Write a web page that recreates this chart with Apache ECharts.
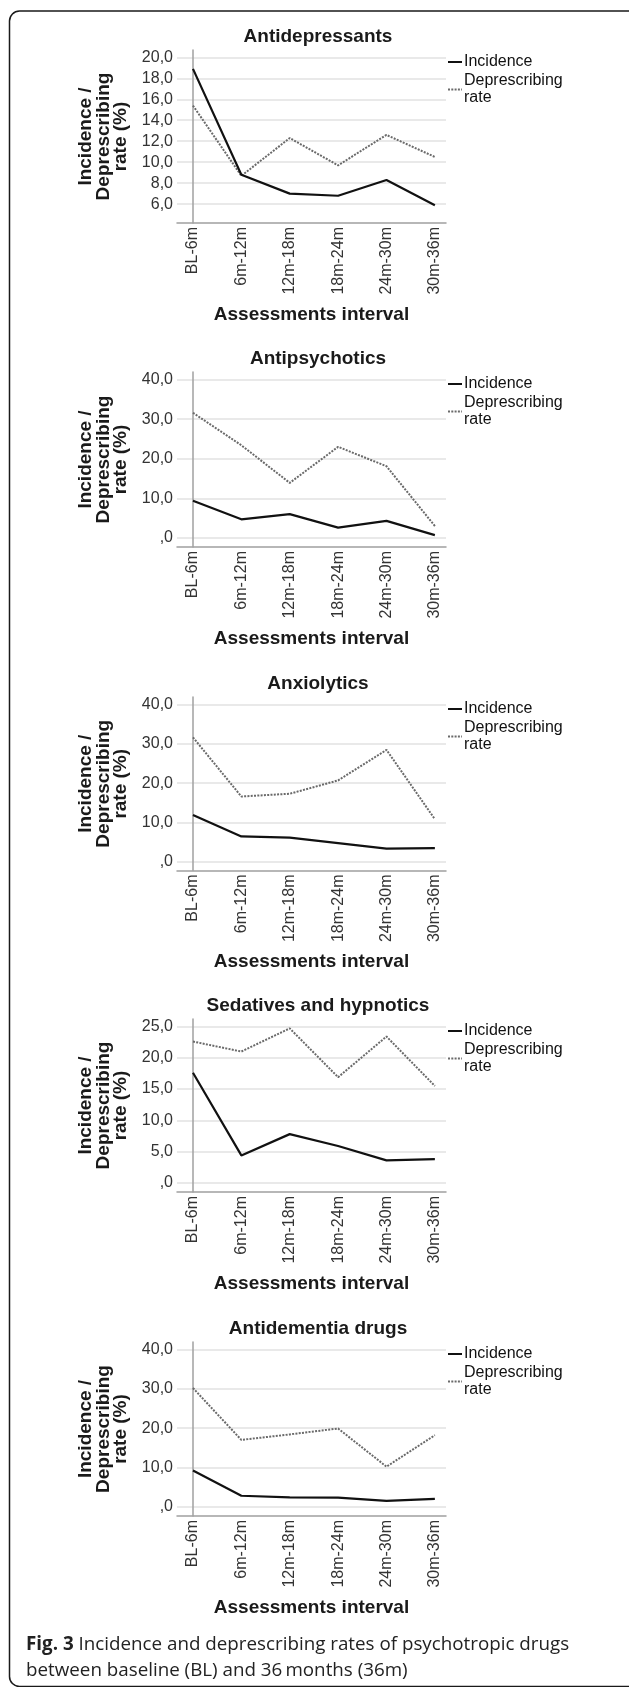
<!DOCTYPE html>
<html>
<head>
<meta charset="utf-8">
<title>Incidence and deprescribing rates of psychotropic drugs</title>
<script src="https://cdn.jsdelivr.net/npm/echarts@6/dist/echarts.min.js"></script>
<style>
  html, body { margin: 0; padding: 0; background: #ffffff; }
  #chart { width: 629px; height: 1687px; }
</style>
</head>
<body>
<div id="chart"></div>
<script>
// Assessment intervals (x axis)
const categories = ['BL-6m', '6m-12m', '12m-18m', '18m-24m', '24m-30m', '30m-36m'];

// Panel titles, top to bottom
const drugClasses = ['Antidepressants', 'Antipsychotics', 'Anxiolytics', 'Sedatives and hypnotics', 'Antidementia drugs'];

// Incidence (%) per interval
const antidepressantsIncidence = [18.9, 8.8, 7.0, 6.8, 8.3, 5.9];
const antipsychoticsIncidence  = [9.4, 4.7, 6.0, 2.6, 4.3, 0.7];
const anxiolyticsIncidence     = [11.9, 6.4, 6.1, 4.7, 3.3, 3.4];
const sedativesIncidence       = [17.6, 4.4, 7.8, 5.9, 3.6, 3.8];
const antidementiaIncidence    = [9.2, 2.8, 2.4, 2.3, 1.5, 2.0];

// Deprescribing rate (%) per interval
const antidepressantsDeprescribing = [15.4, 8.7, 12.3, 9.7, 12.6, 10.5];
const antipsychoticsDeprescribing  = [31.6, 23.4, 13.9, 23.0, 18.1, 3.0];
const anxiolyticsDeprescribing     = [31.7, 16.6, 17.3, 20.7, 28.5, 10.8];
const sedativesDeprescribing       = [22.6, 21.0, 24.7, 16.9, 23.4, 15.5];
const antidementiaDeprescribing    = [30.2, 17.0, 18.4, 19.9, 10.2, 18.2];

// Y axis extents and tick step per panel
const yMin  = [4.2, -2.3, -2.3, -1.45, -2.35];
const yMax  = [20.7, 41.9, 42.0, 26.2, 41.9];
const yStep = [2, 10, 10, 5, 10];

const seriesNames = ['Incidence', 'Deprescribing\nrate'];
const yAxisTitle = 'Incidence /\nDeprescribing\nrate (%)';
const xAxisTitle = 'Assessments interval';

const incidence = [antidepressantsIncidence, antipsychoticsIncidence, anxiolyticsIncidence, sedativesIncidence, antidementiaIncidence];
const deprescribing = [antidepressantsDeprescribing, antipsychoticsDeprescribing, anxiolyticsDeprescribing, sedativesDeprescribing, antidementiaDeprescribing];

// Layout of the stacked panels
const FONT = "'Liberation Sans', Arial, Helvetica, sans-serif";
const CAPTION_FONT = "'Open Sans', 'Noto Sans', sans-serif";
const titleY = [37, 359, 684, 1006, 1329];
const gridTop = [50, 372, 697, 1019, 1342];
const gridHeight = [173, 175, 173.5, 173, 174];
const gridLeft = 177;
const gridWidth = 269;

// SPSS-style number format: 20,0  10,0  ,0
function spssNumber(v) {
  let s = v.toFixed(1).replace('.', ',');
  if (s.startsWith('0,')) s = s.slice(1);
  return s;
}

const grids = [], xAxes = [], yAxes = [], series = [], legends = [], titles = [];

drugClasses.forEach((name, i) => {
  grids.push({ left: gridLeft, top: gridTop[i], width: gridWidth, height: gridHeight[i], containLabel: false });

  titles.push({
    text: name, left: 318, top: titleY[i], padding: 0,
    textAlign: 'center', textVerticalAlign: 'middle',
    textStyle: { fontFamily: FONT, fontSize: 19, fontWeight: 'bold', color: '#1a1a1a' }
  });

  xAxes.push({
    gridIndex: i, type: 'value', min: -0.33, max: 5.23, minInterval: 1, maxInterval: 1,
    name: xAxisTitle, nameLocation: 'middle', nameGap: 82,
    nameTextStyle: { fontFamily: FONT, fontSize: 19, fontWeight: 'bold', color: '#1a1a1a' },
    axisLine: { show: true, onZero: false, lineStyle: { color: '#a0a0a0', width: 1.5 } },
    axisTick: { show: false },
    splitLine: { show: false },
    axisLabel: {
      rotate: 90, margin: 4, fontFamily: FONT, fontSize: 16, color: '#333',
      formatter: v => (Number.isInteger(v) && v >= 0 && v < categories.length) ? categories[v] : ''
    }
  });

  yAxes.push({
    gridIndex: i, type: 'value', min: yMin[i], max: yMax[i],
    minInterval: yStep[i], maxInterval: yStep[i],
    name: yAxisTitle, nameLocation: 'middle', nameGap: 47,
    nameTextStyle: { fontFamily: FONT, fontSize: 19, fontWeight: 'bold', color: '#1a1a1a', lineHeight: 17.5, align: 'center' },
    axisLine: { show: true, lineStyle: { color: '#a0a0a0', width: 1.5 } },
    axisTick: { show: false },
    splitLine: { show: true, showMinLine: false, showMaxLine: false, lineStyle: { color: '#e2e2e2', width: 1.5 } },
    axisLabel: {
      margin: 4, fontFamily: FONT, fontSize: 16, color: '#333',
      formatter: v => {
        const k = v / yStep[i];
        return Math.abs(k - Math.round(k)) < 1e-6 && v >= 0 ? spssNumber(v) : '';
      }
    }
  });

  series.push({
    name: seriesNames[0], type: 'line', xAxisIndex: i, yAxisIndex: i,
    data: incidence[i].map((v, j) => [j, v]),
    symbol: 'none', silent: true, z: 3,
    lineStyle: { color: '#111111', width: 2.2 },
    itemStyle: { color: '#111111', opacity: 0 }
  });
  series.push({
    name: seriesNames[1], type: 'line', xAxisIndex: i, yAxisIndex: i,
    data: deprescribing[i].map((v, j) => [j, v]),
    symbol: 'none', silent: true, z: 2,
    lineStyle: { color: '#6a6a6a', width: 2, type: [2, 1.3] },
    itemStyle: { color: '#6a6a6a', opacity: 0 }
  });

  legends.push({
    data: seriesNames, orient: 'vertical', left: 447, top: gridTop[i] + 3.5,
    itemWidth: 14, itemHeight: 10, itemGap: 2, padding: 0, selectedMode: false,
    itemStyle: { opacity: 0, borderWidth: 0 },
    textStyle: { fontFamily: FONT, fontSize: 16, color: '#111', lineHeight: 17, padding: [0, 0, 0, -3] }
  });
});

// Figure caption
titles.push({
  text: '{b|Fig. 3} Incidence and deprescribing rates of psychotropic drugs\nbetween baseline (BL) and 36\u2009months (36m)',
  left: 26, top: 1632, padding: 0,
  textStyle: {
    fontFamily: CAPTION_FONT, fontSize: 18.8, fontWeight: 'normal', color: '#222', lineHeight: 26,
    rich: { b: { fontFamily: CAPTION_FONT, fontSize: 18.8, fontWeight: 'bold', color: '#222', lineHeight: 26 } }
  }
});

const chart = echarts.init(document.getElementById('chart'), null, { renderer: 'canvas' });
chart.setOption({
  backgroundColor: '#ffffff',
  animation: false,
  title: titles,
  grid: grids,
  xAxis: xAxes,
  yAxis: yAxes,
  legend: legends,
  series: series,
  graphic: [{
    type: 'rect', silent: true, z: 100,
    shape: { x: 9.5, y: 11, width: 640, height: 1675.5, r: 10 },
    style: { fill: 'none', stroke: '#1a1a1a', lineWidth: 1.5 }
  }]
});
</script>
</body>
</html>
